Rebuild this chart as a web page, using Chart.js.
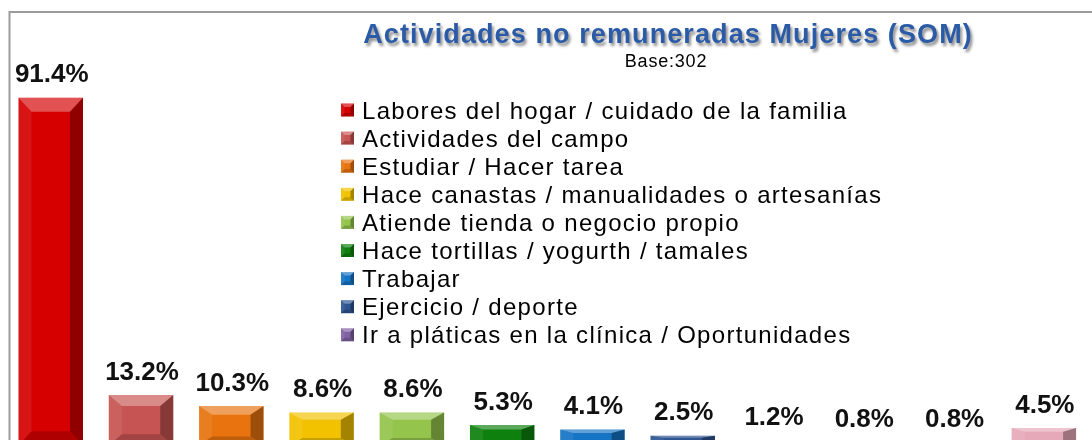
<!DOCTYPE html>
<html>
<head>
<meta charset="utf-8">
<script src="https://cdn.jsdelivr.net/npm/chart.js@4/dist/chart.umd.min.js"></script>
<style>
  html, body { margin: 0; padding: 0; background: #ffffff; overflow: hidden; }
  #wrap { position: absolute; left: 0; top: 0; width: 1092px; height: 440px; overflow: hidden; }
  canvas { display: block; }
</style>
</head>
<body>
<div id="wrap"><canvas id="c" width="1092" height="460"></canvas></div>
<script>
// ---- data ----
const chartTitle = 'Actividades no remuneradas Mujeres (SOM)';
const chartSubtitle = 'Base:302';
const categories = [
  'Labores del hogar / cuidado de la familia',
  'Actividades del campo',
  'Estudiar / Hacer tarea',
  'Hace canastas / manualidades o artesanías',
  'Atiende tienda o negocio propio',
  'Hace tortillas / yogurth / tamales',
  'Trabajar',
  'Ejercicio / deporte',
  'Ir a pláticas en la clínica / Oportunidades',
  'Otra actividad 1',
  'Otra actividad 2',
  'Otros'
];
const values = [91.4, 13.2, 10.3, 8.6, 8.6, 5.3, 4.1, 2.5, 1.2, 0.8, 0.8, 4.5];
const legendShown = 9;
const barColors = [
  '#D60000', '#C65452', '#E8730F', '#F2C200', '#94C44C', '#0E800E',
  '#1574C4', '#2E5592', '#8062A4', '#4BACC6', '#F79646', '#E6A9B9'
];

// ---- helpers ----
function poly(ctx, pts, fill) {
  ctx.beginPath();
  ctx.moveTo(pts[0][0], pts[0][1]);
  for (let i = 1; i < pts.length; i++) ctx.lineTo(pts[i][0], pts[i][1]);
  ctx.closePath();
  ctx.fillStyle = fill;
  ctx.fill();
}
function bevel(ctx, x0, y0, x1, yb, bh, bv) {
  poly(ctx, [[x0, y0], [x1, y0], [x1 - bh, y0 + bv], [x0 + bh, y0 + bv]], 'rgba(255,255,255,0.32)');
  poly(ctx, [[x0, y0], [x0 + bh, y0 + bv], [x0 + bh, yb - bv], [x0, yb]], 'rgba(255,255,255,0.08)');
  poly(ctx, [[x1, y0], [x1 - bh, y0 + bv], [x1 - bh, yb - bv], [x1, yb]], 'rgba(0,0,0,0.32)');
  poly(ctx, [[x0, yb], [x0 + bh, yb - bv], [x1 - bh, yb - bv], [x1, yb]], 'rgba(0,0,0,0.18)');
}

const framePlugin = {
  id: 'frame',
  beforeDraw(chart) {
    const ctx = chart.ctx;
    ctx.save();
    ctx.fillStyle = '#ffffff';
    ctx.fillRect(0, 0, chart.width, chart.height);
    ctx.strokeStyle = '#9c9c9c';
    ctx.lineWidth = 2;
    ctx.beginPath();
    ctx.moveTo(9.5, chart.height);
    ctx.lineTo(9.5, 12);
    ctx.lineTo(chart.width, 12);
    ctx.stroke();
    ctx.restore();
  }
};

const bevelPlugin = {
  id: 'bevel',
  afterDatasetsDraw(chart) {
    const ctx = chart.ctx;
    const meta = chart.getDatasetMeta(0);
    ctx.save();
    meta.data.forEach((bar) => {
      const p = bar.getProps(['x', 'y', 'base', 'width'], true);
      const x0 = p.x - p.width / 2, x1 = p.x + p.width / 2;
      const h = p.base - p.y;
      if (h <= 0) return;
      const bh = Math.min(13, p.width / 2);
      const bv = Math.min(14, h * 0.22);
      bevel(ctx, x0, p.y, x1, p.base, bh, bv);
    });
    ctx.restore();
  }
};

const textPlugin = {
  id: 'texts',
  afterDraw(chart) {
    const ctx = chart.ctx;
    ctx.save();
    // title
    ctx.textAlign = 'center';
    ctx.textBaseline = 'alphabetic';
    ctx.font = 'bold 27px "Liberation Sans", Arial, sans-serif';
    ctx.letterSpacing = '1.1px';
    ctx.shadowColor = 'rgba(0,0,0,0.45)';
    ctx.shadowOffsetX = 2;
    ctx.shadowOffsetY = 3;
    ctx.shadowBlur = 3;
    ctx.fillStyle = '#2B5BA6';
    ctx.fillText(chartTitle, 668, 43);
    ctx.shadowColor = 'transparent';
    ctx.shadowOffsetX = 0; ctx.shadowOffsetY = 0; ctx.shadowBlur = 0;
    // subtitle
    ctx.font = '18px "Liberation Sans", Arial, sans-serif';
    ctx.letterSpacing = '0.8px';
    ctx.fillStyle = '#000000';
    ctx.fillText(chartSubtitle, 666, 67);

    // legend
    ctx.textAlign = 'left';
    ctx.font = '24px "Liberation Sans", Arial, sans-serif';
    ctx.letterSpacing = '1.3px';
    for (let i = 0; i < legendShown; i++) {
      const cy = 110 + i * 28.1;
      const bx = 341, by = cy - 6.5;
      ctx.fillStyle = barColors[i];
      ctx.fillRect(bx, by, 13, 13);
      bevel(ctx, bx, by, bx + 13, by + 13, 3.5, 3.5);
      ctx.fillStyle = '#000000';
      ctx.fillText(categories[i], 362, cy + 8.5);
    }

    // value labels
    ctx.textAlign = 'center';
    ctx.font = 'bold 26px "Liberation Sans", Arial, sans-serif';
    ctx.letterSpacing = '0px';
    ctx.fillStyle = '#111111';
    const meta = chart.getDatasetMeta(0);
    meta.data.forEach((bar, i) => {
      const p = bar.getProps(['x', 'y'], true);
      ctx.fillText(values[i].toFixed(1) + '%', p.x + 1, p.y - 15.5);
    });
    ctx.restore();
  }
};

new Chart(document.getElementById('c'), {
  type: 'bar',
  data: {
    labels: categories,
    datasets: [{
      data: values,
      backgroundColor: barColors,
      borderWidth: 0,
      barPercentage: 0.714,
      categoryPercentage: 1
    }]
  },
  options: {
    responsive: false,
    animation: false,
    devicePixelRatio: 1,
    layout: { padding: { left: 5.6, right: 3, top: 65, bottom: 14.8 } },
    scales: {
      x: { display: false },
      y: { display: false, min: 0, max: 100 }
    },
    plugins: {
      legend: { display: false },
      tooltip: { enabled: false },
      title: { display: false }
    }
  },
  plugins: [framePlugin, bevelPlugin, textPlugin]
});
</script>
</body>
</html>
